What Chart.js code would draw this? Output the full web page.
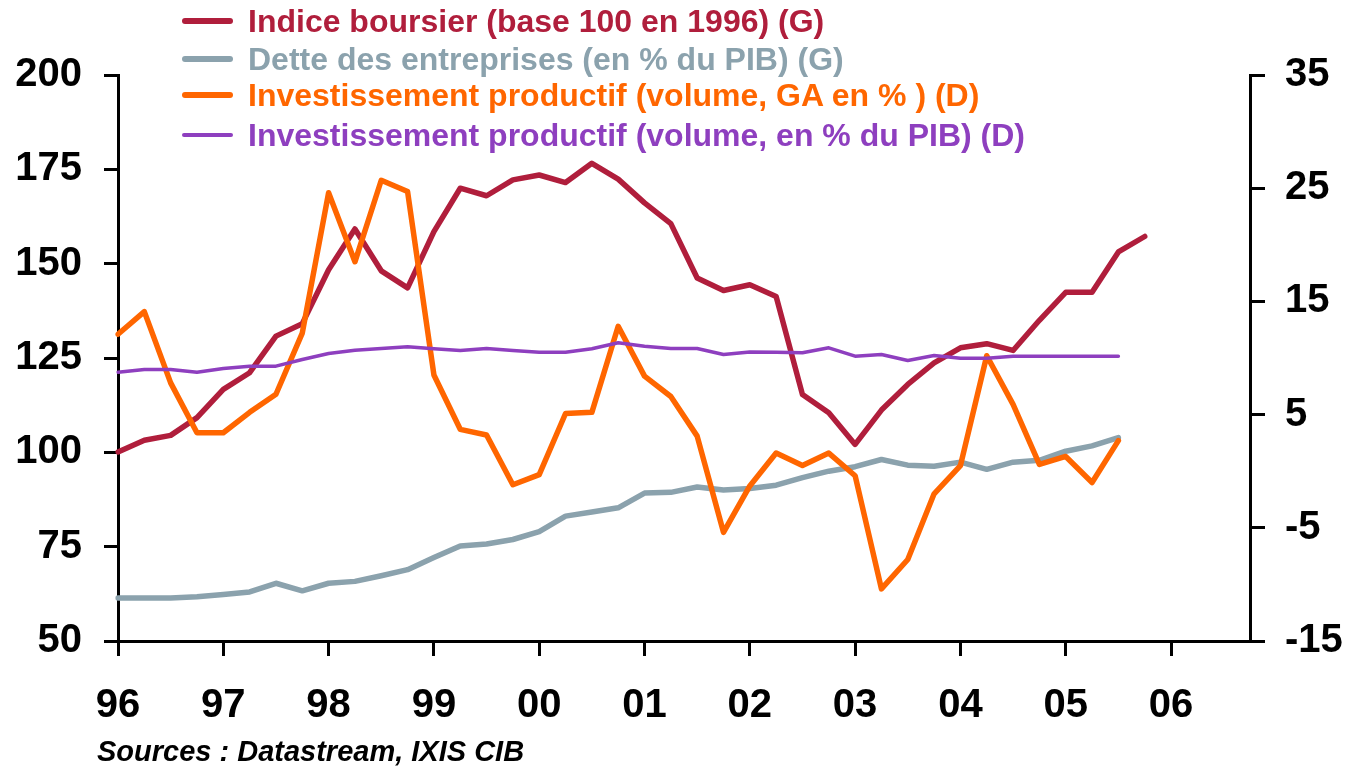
<!DOCTYPE html>
<html>
<head>
<meta charset="utf-8">
<script src="https://cdn.jsdelivr.net/npm/chart.js@4"></script>
<style>
  body { margin: 0; background: #fff; }
  #wrap { position: relative; width: 1360px; height: 770px; }
  #legend { position: absolute; left: 182px; top: 0; font: bold 32px 'Liberation Sans', Arial, sans-serif; }
  .item { position: absolute; left: 0; height: 38px; white-space: nowrap; }
  .item span.swatch { position: absolute; left: 0; width: 51px; border-radius: 4px; }
  .item span.txt { position: absolute; left: 66px; top: 0; line-height: 38px; }
  #source { position: absolute; left: 97px; top: 735px; font: italic bold 29px 'Liberation Sans', Arial, sans-serif; color: #000; }
</style>
</head>
<body>
<div id="wrap">
  <canvas id="chart"></canvas>
  <div id="legend"></div>
  <div id="source">Sources : Datastream, IXIS CIB</div>
</div>
<script>
// Tick labels and categories (quarters from 96 T1 to 06 T4)
const yearLabels = ['96', '97', '98', '99', '00', '01', '02', '03', '04', '05', '06'];
const quarters = yearLabels.flatMap(y => ['T1', 'T2', 'T3', 'T4'].map(q => y + q));

// Series (left axis)
const indiceBoursier = [100.1, 103.2, 104.5, 109.2, 116.7, 121.1, 130.8, 134.1, 148.4, 159.2,
    148.1, 143.6, 158.5, 170.0, 168.0, 172.2, 173.5, 171.5, 176.6, 172.4,
    166.1, 160.6, 146.2, 142.9, 144.4, 141.3, 115.3, 110.5, 102.1, 111.2,
    118.0, 123.7, 127.7, 128.8, 127.0, 135.0, 142.4, 142.4, 153.1, 157.2];
const detteEntreprises = [61.4, 61.4, 61.4, 61.7, 62.3, 63.0, 65.3, 63.3, 65.3, 65.8,
    67.3, 68.9, 72.1, 75.2, 75.7, 76.9, 79.0, 83.1, 84.2, 85.3,
    89.2, 89.4, 90.8, 90.0, 90.4, 91.3, 93.3, 95.0, 96.2, 98.1,
    96.6, 96.3, 97.4, 95.5, 97.4, 97.9, 100.3, 101.7, 103.9];

// Series (right axis)
const investGA = [12.1, 14.1, 7.8, 3.4, 3.4, 5.2, 6.8, 12.2, 24.6, 18.5,
    25.7, 24.7, 8.5, 3.7, 3.2, -1.2, -0.3, 5.1, 5.2, 12.8,
    8.4, 6.6, 3.1, -5.4, -1.3, 1.6, 0.5, 1.6, -0.4, -10.4,
    -7.8, -2.0, 0.5, 10.2, 5.9, 0.6, 1.3, -1.0, 2.7];
const investPIB = [8.75, 8.99, 8.99, 8.75, 9.07, 9.28, 9.28, 9.87, 10.4, 10.69,
    10.84, 10.99, 10.82, 10.66, 10.84, 10.66, 10.51, 10.51, 10.81, 11.34,
    11.04, 10.84, 10.84, 10.31, 10.54, 10.5, 10.46, 10.9, 10.16, 10.31,
    9.78, 10.22, 9.98, 9.98, 10.16, 10.16, 10.16, 10.16, 10.16];

const seriesNames = [
    'Indice boursier (base 100 en 1996) (G)',
    'Dette des entreprises (en % du PIB) (G)',
    'Investissement productif (volume, GA en % ) (D)',
    'Investissement productif (volume, en % du PIB) (D)'
];
const seriesColors = ['#b01e3c', '#8ba2ad', '#ff6600', '#8e3fbf'];

const FONT = "'Liberation Sans', Arial, sans-serif";

function lineSet(i, data, axis, width, order) {
    return {
        label: seriesNames[i],
        data: data,
        yAxisID: axis,
        borderColor: seriesColors[i],
        borderWidth: width,
        borderJoinStyle: 'round',
        borderCapStyle: 'round',
        pointRadius: 0,
        tension: 0,
        fill: false,
        order: order
    };
}

const datasets = [
    lineSet(0, indiceBoursier, 'y', 5.5, 4),
    lineSet(1, detteEntreprises, 'y', 5.5, 3),
    lineSet(2, investGA, 'y1', 5.5, 2),
    lineSet(3, investPIB, 'y1', 3.5, 1)
];

new Chart(document.getElementById('chart').getContext('2d'), {
    type: 'line',
    data: { labels: quarters, datasets: datasets },
    options: {
        responsive: true,
        maintainAspectRatio: false,
        animation: false,
        layout: { padding: { top: 75, left: 0, right: 0, bottom: 0 } },
        plugins: { legend: { display: false }, tooltip: { enabled: false } },
        scales: {
            x: {
                type: 'category',
                offset: false,
                afterBuildTicks: s => { s.ticks = s.ticks.filter(t => t.value % 4 === 0); },
                afterFit: s => { s.height = 129; },
                ticks: {
                    autoSkip: false, maxRotation: 0, color: '#000', padding: 26,
                    font: { family: FONT, size: 40, weight: 'bold' },
                    callback: v => yearLabels[v / 4]
                },
                grid: { offset: false, drawOnChartArea: false, color: '#000', lineWidth: 3, tickLength: 15 },
                border: { color: '#000', width: 3 }
            },
            y: {
                position: 'left',
                min: 50, max: 200,
                afterFit: s => { s.width = 118; },
                ticks: { stepSize: 25, color: '#000', padding: 22, font: { family: FONT, size: 40, weight: 'bold' } },
                grid: { drawOnChartArea: false, color: '#000', lineWidth: 3, tickLength: 14 },
                border: { color: '#000', width: 3 }
            },
            y1: {
                position: 'right',
                min: -15, max: 35,
                afterFit: s => { s.width = 110; },
                ticks: { stepSize: 10, color: '#000', padding: 20, font: { family: FONT, size: 40, weight: 'bold' } },
                grid: {
                    drawOnChartArea: true,
                    color: c => (c.tick && c.tick.value === 0) ? '#000' : 'rgba(0,0,0,0)',
                    tickColor: '#000',
                    lineWidth: 3,
                    tickLength: 15
                },
                border: { color: '#000', width: 3 }
            }
        }
    }
});

// Legend built from the series names and colours
const legendTops = [2, 40, 76, 116];
const swatchWidths = [6, 6, 6, 3.5];
const legend = document.getElementById('legend');
seriesNames.forEach((name, i) => {
    const item = document.createElement('div');
    item.className = 'item';
    item.style.top = legendTops[i] + 'px';
    const sw = document.createElement('span');
    sw.className = 'swatch';
    sw.style.background = seriesColors[i];
    sw.style.height = swatchWidths[i] + 'px';
    sw.style.top = (19 - swatchWidths[i] / 2) + 'px';
    const txt = document.createElement('span');
    txt.className = 'txt';
    txt.style.color = seriesColors[i];
    txt.textContent = name;
    item.appendChild(sw);
    item.appendChild(txt);
    legend.appendChild(item);
});
</script>
</body>
</html>
